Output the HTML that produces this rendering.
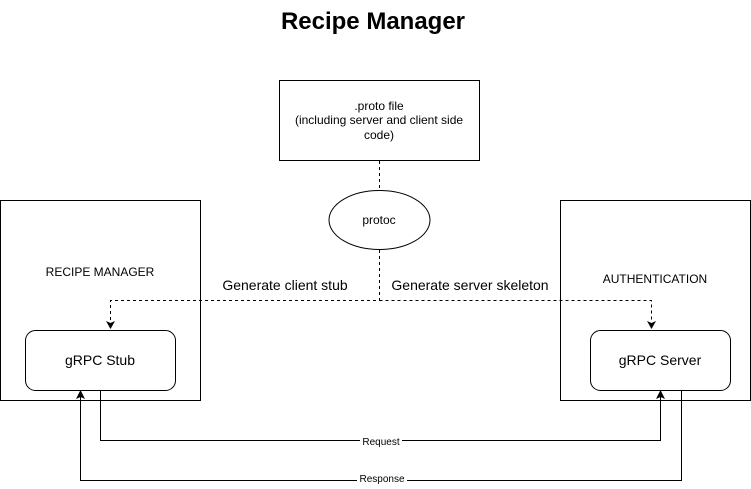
<!DOCTYPE html>
<html><head><meta charset="utf-8"><style>
body{margin:0;background:#fff;}
svg{display:block;font-family:"Liberation Sans",sans-serif;}
</style></head><body>
<svg width="751" height="489" viewBox="0 0 751 489" xmlns="http://www.w3.org/2000/svg">
<text x="373" y="29" text-anchor="middle" font-size="24" font-weight="bold">Recipe Manager</text>
<rect x="279.5" y="80.5" width="200" height="80" fill="#fff" stroke="#000"/>
<text x="379" y="110" text-anchor="middle" font-size="12">.proto file</text>
<text x="379" y="124" text-anchor="middle" font-size="12">(including server and client side</text>
<text x="379" y="139" text-anchor="middle" font-size="12">code)</text>
<line x1="379.5" y1="161" x2="379.5" y2="190" stroke="#000" stroke-dasharray="3,3"/>
<ellipse cx="379.5" cy="220" rx="50.5" ry="29.5" fill="#fff" stroke="#000"/>
<text x="379" y="224" text-anchor="middle" font-size="12">protoc</text>
<rect x="0.5" y="200.5" width="200" height="200" fill="none" stroke="#000"/>
<text x="100" y="276" text-anchor="middle" font-size="12">RECIPE MANAGER</text>
<rect x="560.5" y="200.5" width="190" height="200" fill="none" stroke="#000"/>
<text x="655" y="283" text-anchor="middle" font-size="12">AUTHENTICATION</text>
<text x="285" y="290" text-anchor="middle" font-size="14">Generate client stub</text>
<text x="470" y="290" text-anchor="middle" font-size="14">Generate server skeleton</text>
<path d="M379.5 250 V300.5 H110.5 V322" fill="none" stroke="#000" stroke-dasharray="3,3"/>
<path d="M379.5 300.5 H651.5 V322" fill="none" stroke="#000" stroke-dasharray="3,3"/>
<path d="M106 321 L110.5 329 L115 321 L110.5 323 Z"/>
<path d="M647 321 L651.5 329 L656 321 L651.5 323 Z"/>
<rect x="25.5" y="330.5" width="150" height="60" rx="10" fill="#fff" stroke="#000"/>
<text x="100" y="365" text-anchor="middle" font-size="14">gRPC Stub</text>
<rect x="590.5" y="330.5" width="140" height="60" rx="10" fill="#fff" stroke="#000"/>
<text x="660" y="365" text-anchor="middle" font-size="14">gRPC Server</text>
<path d="M100.5 391 V440.5 H660.5 V397" fill="none" stroke="#000"/>
<path d="M656 399 L660.5 390 L665 399 L660.5 397 Z"/>
<path d="M681.5 391 V480.5 H80.5 V397" fill="none" stroke="#000"/>
<path d="M76 399 L80.5 390 L85 399 L80.5 397 Z"/>
<rect x="360" y="436" width="42" height="10" fill="#fff"/>
<text x="381" y="445" text-anchor="middle" font-size="10">Request</text>
<rect x="357" y="475" width="50" height="10" fill="#fff"/>
<text x="382" y="482" text-anchor="middle" font-size="10">Response</text>
</svg>
</body></html>
